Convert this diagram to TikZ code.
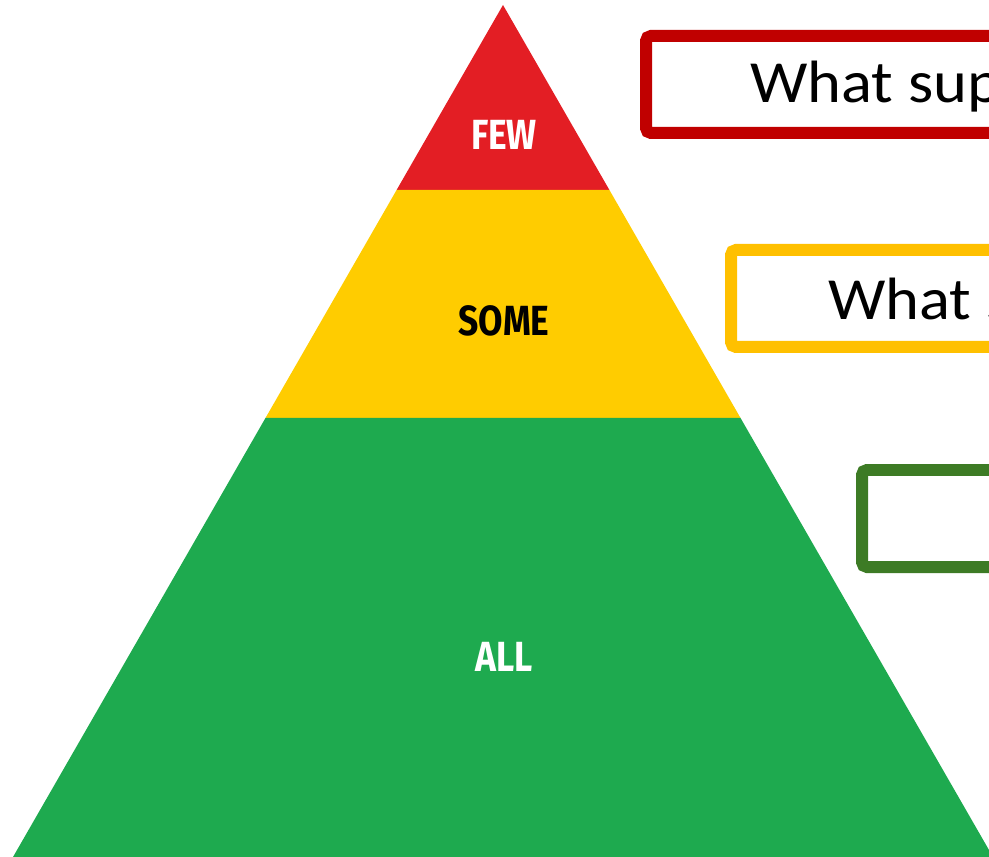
\documentclass[tikz,border=0pt]{standalone}
\usepackage{fontspec}
\usepackage{tikz}
\usetikzlibrary{calc}
\newfontfamily\askfont[FakeStretch=1.08]{Carlito}
\newfontfamily\tierfont[FakeStretch=0.84]{Fira Sans}

\definecolor{tierred}{HTML}{E31E24}
\definecolor{tieryellow}{HTML}{FFCC00}
\definecolor{tiergreen}{HTML}{1EAA4F}
\definecolor{boxred}{HTML}{C00000}
\definecolor{boxyellow}{HTML}{FFC000}
\definecolor{boxgreen}{HTML}{3D7B25}

\tikzset{
	tier/.style={font=\tierfont\bfseries\fontsize{24}{24}\selectfont},
	askbox/.style={line width=0.24cm, rounded corners=0.1cm},
	asktext/.style={font=\askfont\fontsize{34}{34}\selectfont, anchor=base west, inner sep=0pt}
}

\begin{document}
\begin{tikzpicture}[x=0.02cm, y=-0.02cm]
	\useasboundingbox (0,0) rectangle (989,857);

	\coordinate (top) at (503,5);
	\coordinate (bl) at (13,857);
	\coordinate (br) at (993,857);
	\coordinate (l1) at ($(top)!0.2171!(bl)$);
	\coordinate (r1) at ($(top)!0.2171!(br)$);
	\coordinate (l2) at ($(top)!0.4847!(bl)$);
	\coordinate (r2) at ($(top)!0.4847!(br)$);

	\fill[tierred] (top) -- (r1) -- (l1) -- cycle;
	\fill[tieryellow] (l1) -- (r1) -- (r2) -- (l2) -- cycle;
	\fill[tiergreen] (l2) -- (r2) -- (br) -- (bl) -- cycle;

	\node[tier, text=white](few) at (504,135) {FEW};
	\node[tier, text=black](some) at (504,321) {SOME};
	\node[tier, text=white](all) at (504,657) {ALL};

	\draw[askbox, draw=boxred] (646,36) rectangle (1040,133);
	\draw[askbox, draw=boxyellow] (731,250) rectangle (1040,347);
	\draw[askbox, draw=boxgreen] (862,470) rectangle (1040,567);

	\node[asktext](qfew) at (750,103) {What sup};
	\node[asktext](qsome) at (828,320) {What s};
\end{tikzpicture}
\end{document}
